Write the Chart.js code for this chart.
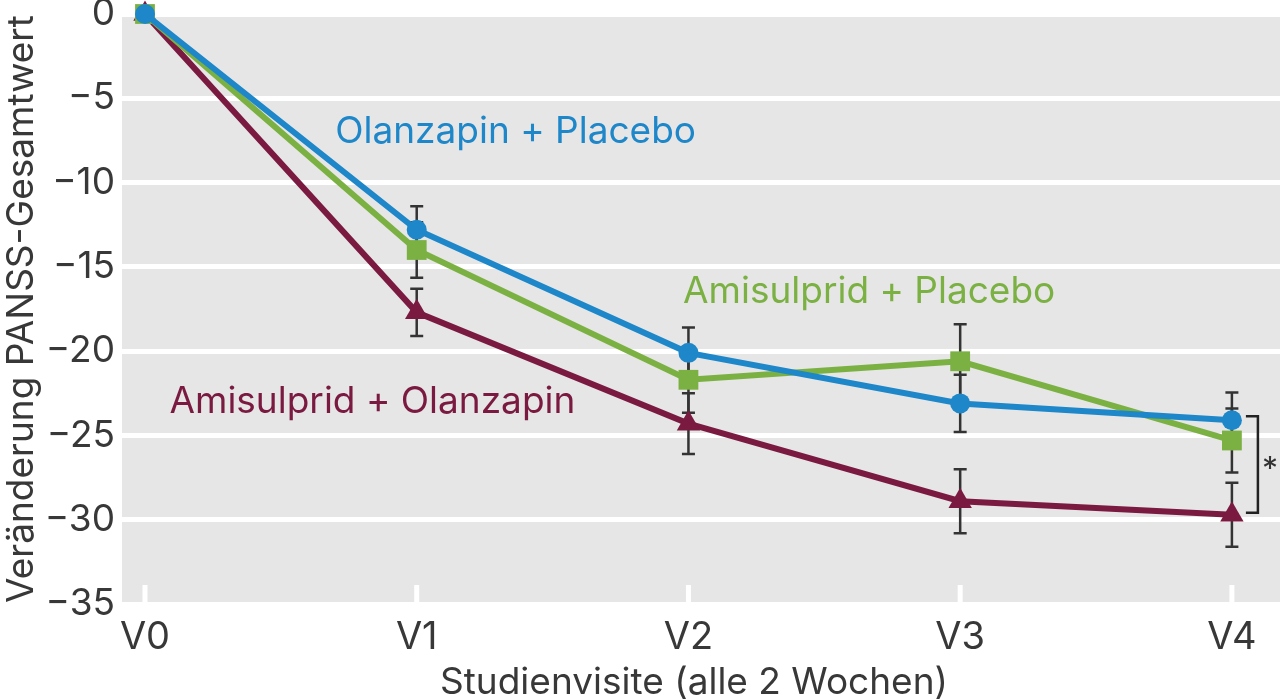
<!DOCTYPE html>
<html>
<head>
<meta charset="utf-8">
<script src="https://cdn.jsdelivr.net/npm/chart.js@4.4.1/dist/chart.umd.min.js"></script>
<style>
html,body{margin:0;padding:0;background:#fff;}
#wrap{width:1280px;height:699px;position:relative;}
</style>
</head>
<body>
<div id="wrap"><canvas id="c" width="1280" height="699"></canvas></div>
<script>
// ---- data ----
const visits = ['V0', 'V1', 'V2', 'V3', 'V4'];
const yTicks = [0, -5, -10, -15, -20, -25, -30, -35];
const seriesNames = ['Olanzapin + Placebo', 'Amisulprid + Placebo', 'Amisulprid + Olanzapin'];
const olanzPlacebo = [0, -12.8, -20.1, -23.1, -24.1];
const olanzPlaceboErr = [0, 1.4, 1.5, 1.7, 1.65];
const amiPlacebo = [0, -14.0, -21.7, -20.6, -25.3];
const amiPlaceboErr = [0, 1.65, 1.95, 2.2, 1.9];
const amiOlanz = [0, -17.7, -24.3, -28.9, -29.7];
const amiOlanzErr = [0, 1.4, 1.8, 1.9, 1.9];
const xTitle = 'Studienvisite (alle 2 Wochen)';
const yTitle = 'Veränderung PANSS-Gesamtwert';
const sigMark = '*';

// ---- styles ----
const colors = ['#1d87c9', '#7bb143', '#7a1a40'];
const shapes = ['circle', 'rect', 'triangle'];
const radii = [10, 14, 13.5];
const textColor = '#383838';
const FONT = 'Inter, "Open Sans", sans-serif';
// label anchor positions (in axis units) for the in-chart series names
const labelPos = [{x: 0.70, y: -7.0}, {x: 1.98, y: -16.5}, {x: 0.09, y: -23.0}];

const seriesVals = [olanzPlacebo, amiPlacebo, amiOlanz];
const seriesErr = [olanzPlaceboErr, amiPlaceboErr, amiOlanzErr];

const datasets = seriesVals.map((vals, k) => ({
  label: seriesNames[k],
  data: vals.map((v, i) => ({x: i, y: v})),
  borderColor: colors[k],
  backgroundColor: colors[k],
  pointBackgroundColor: colors[k],
  pointBorderColor: colors[k],
  pointBorderWidth: 0,
  borderWidth: 6,
  pointStyle: shapes[k],
  pointRadius: radii[k],
  pointHoverRadius: radii[k],
  tension: 0,
  clip: false,
  order: k
}));

const bgPlugin = {
  id: 'bg',
  beforeDraw(chart) {
    const {ctx, chartArea: a} = chart;
    ctx.save();
    ctx.fillStyle = '#e6e6e6';
    ctx.fillRect(a.left, a.top, a.right - a.left, a.bottom - a.top);
    ctx.restore();
  }
};

const overlayPlugin = {
  id: 'overlay',
  beforeDatasetsDraw(chart) {
    const {ctx, chartArea: a, scales: {x, y}} = chart;
    ctx.save();
    // white tick marks inside the plot at each visit
    ctx.fillStyle = '#ffffff';
    visits.forEach((v, i) => {
      const px = x.getPixelForValue(i);
      ctx.fillRect(px - 2.5, a.bottom - 19, 5, 19);
    });
    // error bars
    ctx.strokeStyle = '#333333';
    ctx.lineWidth = 2.5;
    seriesVals.forEach((vals, k) => {
      vals.forEach((v, i) => {
        const e = seriesErr[k][i];
        if (!e) return;
        const px = x.getPixelForValue(i);
        const y1 = y.getPixelForValue(v + e);
        const y2 = y.getPixelForValue(v - e);
        ctx.beginPath();
        ctx.moveTo(px, y1); ctx.lineTo(px, y2);
        ctx.moveTo(px - 6.5, y1); ctx.lineTo(px + 6.5, y1);
        ctx.moveTo(px - 6.5, y2); ctx.lineTo(px + 6.5, y2);
        ctx.stroke();
      });
    });
    ctx.restore();
  },
  afterDatasetsDraw(chart) {
    const {ctx, chartArea: a, scales: {x, y}} = chart;
    ctx.save();
    // series labels
    ctx.font = '400 37px ' + FONT;
    ctx.textBaseline = 'middle';
    ctx.textAlign = 'left';
    seriesNames.forEach((n, k) => {
      ctx.fillStyle = colors[k];
      ctx.fillText(n, x.getPixelForValue(labelPos[k].x), y.getPixelForValue(labelPos[k].y));
    });
    // significance bracket between top and bottom series at the last visit
    const last = visits.length - 1;
    const bx = x.getPixelForValue(last) + 26;
    const byTop = y.getPixelForValue(olanzPlacebo[last]) - 4;
    const byBot = y.getPixelForValue(amiOlanz[last]) - 2;
    ctx.strokeStyle = '#222';
    ctx.lineWidth = 2.5;
    ctx.beginPath();
    ctx.moveTo(bx - 12, byTop); ctx.lineTo(bx, byTop); ctx.lineTo(bx, byBot); ctx.lineTo(bx - 12, byBot);
    ctx.stroke();
    ctx.fillStyle = '#333';
    ctx.font = '400 32px ' + FONT;
    ctx.textAlign = 'center';
    ctx.fillText(sigMark, bx + 12, (byTop + byBot) / 2 + 6);
    // axis titles
    ctx.fillStyle = textColor;
    ctx.font = '400 37px ' + FONT;
    ctx.textAlign = 'center';
    ctx.textBaseline = 'middle';
    ctx.fillText(xTitle, 694, 683);
    ctx.translate(22, (a.top + a.bottom) / 2);
    ctx.rotate(-Math.PI / 2);
    ctx.fillText(yTitle, 0, 0);
    ctx.restore();
  }
};

new Chart(document.getElementById('c'), {
  type: 'line',
  data: {datasets},
  options: {
    responsive: false,
    animation: false,
    events: [],
    layout: {autoPadding: false, padding: {top: 14, left: 0, right: 0, bottom: 0}},
    plugins: {legend: {display: false}, tooltip: {enabled: false}},
    scales: {
      x: {
        type: 'linear',
        min: -0.0846,
        max: 4.177,
        afterBuildTicks: s => { s.ticks = visits.map((v, i) => ({value: i})); },
        afterFit: s => { s.height = 95; s.paddingLeft = 0; s.paddingRight = 0; },
        ticks: {
          callback: (v) => visits[v] ?? '',
          font: {size: 38, family: FONT},
          color: textColor,
          padding: 3,
          maxRotation: 0,
          autoSkip: false
        },
        grid: {display: false},
        border: {display: false}
      },
      y: {
        type: 'linear',
        min: -35,
        max: 0,
        afterBuildTicks: s => { s.ticks = yTicks.map(v => ({value: v})); },
        afterFit: s => { s.width = 122; s.paddingTop = 0; s.paddingBottom = 0; },
        ticks: {
          callback: (v) => v < 0 ? '\u2212' + Math.abs(v) : String(v),
          font: {size: 37, family: FONT},
          color: textColor,
          padding: 7
        },
        grid: {color: '#ffffff', lineWidth: 5, drawTicks: false},
        border: {display: false}
      }
    }
  },
  plugins: [bgPlugin, overlayPlugin]
});
</script>
</body>
</html>
